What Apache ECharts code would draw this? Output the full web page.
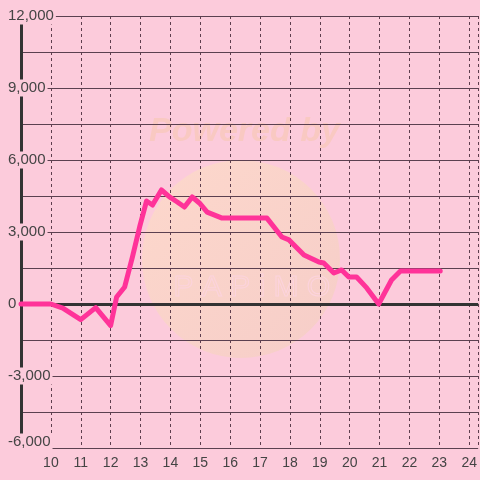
<!DOCTYPE html>
<html>
<head>
<meta charset="utf-8">
<script src="https://cdn.jsdelivr.net/npm/echarts@6/dist/echarts.min.js"></script>
<style>
html,body{margin:0;padding:0;background:#fccbdb;}
#c{width:480px;height:480px;}
</style>
</head>
<body>
<div id="c"></div>
<script>
var hours = [9, 10, 10.4, 11, 11.5, 12, 12.2, 12.47, 12.73, 12.97, 13.2, 13.4, 13.7, 13.97, 14.23, 14.47, 14.73, 14.97, 15.23, 15.73, 17.23, 17.73, 17.97, 18.47, 18.97, 19.13, 19.47, 19.73, 19.97, 20.23, 20.57, 20.97, 21.4, 21.7, 23.03];
var values = [0, 0, -170, -650, -150, -900, 290, 710, 1960, 3210, 4290, 4125, 4750, 4460, 4250, 4040, 4460, 4210, 3830, 3580, 3580, 2790, 2670, 2040, 1750, 1710, 1290, 1420, 1125, 1125, 670, 0, 1000, 1375, 1375];
var xTicks = [10, 11, 12, 13, 14, 15, 16, 17, 18, 19, 20, 21, 22, 23, 24];
var yLabelValues = [-6000, -3000, 0, 3000, 6000, 9000, 12000];

var BG = '#fccbdb';
function fmt(v) {
  var s = String(Math.abs(v)).replace(/\B(?=(\d{3})+(?!\d))/g, ',');
  return (v < 0 ? '-' : '') + s;
}
var data = hours.map(function (h, i) { return [h, values[i]]; });

var chart = echarts.init(document.getElementById('c'));
chart.setOption({
  backgroundColor: BG,
  animation: false,
  grid: { left: 21, right: 0, top: 16, bottom: 32, containLabel: false },
  graphic: [
    {
      type: 'circle', z: -1, silent: true,
      shape: { cx: 241, cy: 259, r: 99 },
      style: {
        fill: {
          type: 'linear', x: 0, y: 0, x2: 1, y2: 1,
          colorStops: [{ offset: 0, color: '#fdd8cc' }, { offset: 1, color: '#f6cdc8' }]
        }
      }
    },
    {
      type: 'text', z: -1, silent: true,
      left: 149, top: 115,
      style: { text: 'Powered by', fill: '#f9c9c2', font: 'italic bold 34px "Liberation Sans"' }
    },
    {
      type: 'text', z: -1, silent: true,
      left: 173, top: 272,
      style: { text: 'P A P i M O', fill: 'rgba(0,0,0,0)', stroke: '#fcd3dd', lineWidth: 1, font: '30px "Liberation Sans"' }
    }
  ],
  xAxis: {
    type: 'value',
    min: 9, max: 24.3, interval: 1,
    axisLine: { show: false },
    axisTick: { show: false },
    axisLabel: {
      margin: 8, color: '#444', fontSize: 14, fontFamily: 'Liberation Sans',
      showMaxLabel: false,
      formatter: function (v) { return xTicks.indexOf(v) >= 0 ? String(v) : ''; }
    },
    splitLine: { show: true, lineStyle: { color: '#5e3e4e', width: 1, type: [3, 3] } }
  },
  yAxis: {
    type: 'value',
    min: -6000, max: 12000, interval: 1500,
    axisLine: { show: true, onZero: false, lineStyle: { color: '#333', width: 3 } },
    axisTick: { show: false },
    axisLabel: {
      align: 'left', margin: 14,
      formatter: function (v) {
        if (yLabelValues.indexOf(v) < 0) return '';
        var tag = v === yLabelValues[0] ? 'm' : 'b';
        return '{' + tag + '|' + fmt(v) + '}';
      },
      rich: {
        b: { color: '#444', fontSize: 15, fontFamily: 'Liberation Sans', backgroundColor: BG, padding: [1, 2, 1, 1], lineHeight: 16 },
        m: { color: '#444', fontSize: 15, fontFamily: 'Liberation Sans', backgroundColor: BG, padding: [1, 2, 13, 1], lineHeight: 16 }
      }
    },
    splitLine: { show: true, lineStyle: { color: '#5b4050', width: 1 } }
  },
  series: [
    {
      type: 'line', data: [], z: 1, silent: true,
      markLine: {
        silent: true, symbol: 'none', animation: false,
        label: { show: false },
        lineStyle: { color: '#333', width: 3, type: 'solid' },
        data: [{ yAxis: 0 }]
      }
    },
    {
      type: 'line', z: 5,
      data: data,
      showSymbol: false,
      lineStyle: { color: '#ff3399', width: 5, join: 'round', cap: 'round' },
      itemStyle: { color: '#ff3399' }
    }
  ]
});
</script>
</body>
</html>
